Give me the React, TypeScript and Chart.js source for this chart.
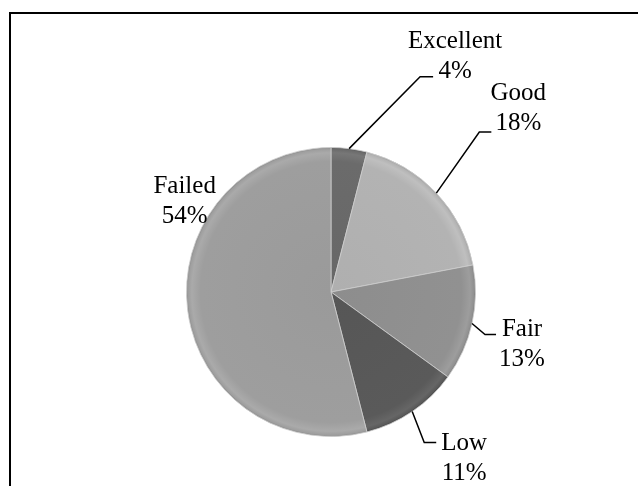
import React, { useEffect, useRef } from "react";
import { Chart, registerables } from "chart.js";

Chart.register(...registerables);

const categories = ["Excellent", "Good", "Fair", "Low", "Failed"];
const shares = [4, 18, 13, 11, 54];
const sliceColors = ["#6b6b6b", "#b3b3b3", "#919191", "#5a5a5a", "#9e9e9e"];

// label layout: text centre offset (from the slice's outer mid-point), leader elbow and end offsets
const labelOffsets = [
  { tx: 106, ty: -101, leader: [[71, -72], [84, -72]] },
  { tx: 82, ty: -93, leader: [[43, -61], [55, -61]] },
  { tx: 50, ty: 12, leader: [[13, 11], [24, 11]] },
  { tx: 52, ty: 38, leader: [[12, 31], [24, 31]] },
  { tx: -3, ty: -117, leader: null },
];

function shade(hex: string, d: number) {
  const n = parseInt(hex.slice(1), 16);
  const c = (v: number) => Math.max(0, Math.min(255, v + d));
  const r = c((n >> 16) & 255), g = c((n >> 8) & 255), b = c(n & 255);
  return `rgb(${r},${g},${b})`;
}

const labelPlugin = {
  id: "sliceLabels",
  afterDatasetsDraw(chart: any) {
    const meta = chart.getDatasetMeta(0);
    const ctx = chart.ctx;
    ctx.save();
    meta.data.forEach((arc: any, i: number) => {
      const { x, y, startAngle, endAngle, outerRadius } = arc.getProps(
        ["x", "y", "startAngle", "endAngle", "outerRadius"],
        true
      );
      const mid = (startAngle + endAngle) / 2;
      const ex = x + Math.cos(mid) * outerRadius;
      const ey = y + Math.sin(mid) * outerRadius;
      const lo = labelOffsets[i];
      if (lo.leader) {
        ctx.beginPath();
        ctx.moveTo(ex, ey);
        lo.leader.forEach((p) => ctx.lineTo(ex + p[0], ey + p[1]));
        ctx.strokeStyle = "#000";
        ctx.lineWidth = 1.5;
        ctx.stroke();
      }
      ctx.fillStyle = "#000";
      ctx.font = '25px "Liberation Serif", "Times New Roman", serif';
      ctx.textAlign = "center";
      ctx.textBaseline = "alphabetic";
      ctx.fillText(categories[i], ex + lo.tx, ey + lo.ty);
      ctx.fillText(shares[i] + "%", ex + lo.tx, ey + lo.ty + 30);
    });
    ctx.restore();
  },
};

export default function App() {
  const ref = useRef<HTMLCanvasElement>(null);
  useEffect(() => {
    if (!ref.current) return;
    const chart = new Chart(ref.current, {
      type: "pie",
      data: {
        labels: categories,
        datasets: [
          {
            data: shares,
            backgroundColor: (c: any) => {
              const base = sliceColors[c.dataIndex] || "#999";
              const area = c.chart.chartArea;
              if (!area) return base;
              const cx = (area.left + area.right) / 2;
              const cy = (area.top + area.bottom) / 2;
              const r = Math.min(area.right - area.left, area.bottom - area.top) / 2;
              const g = c.chart.ctx.createRadialGradient(cx, cy, 0, cx, cy, r);
              g.addColorStop(0, shade(base, -4));
              g.addColorStop(0.9, base);
              g.addColorStop(0.96, shade(base, 12));
              g.addColorStop(0.985, base);
              g.addColorStop(1, shade(base, -28));
              return g;
            },
            borderColor: "rgba(205,205,205,0.8)",
            borderWidth: 1,
          },
        ],
      },
      options: {
        responsive: false,
        animation: false,
        events: [],
        layout: { padding: { top: 147, bottom: 49, left: 186, right: 162 } },
        plugins: {
          legend: { display: false },
          tooltip: { enabled: false },
        },
      },
      plugins: [labelPlugin],
    });
    return () => chart.destroy();
  }, []);

  return (
    <div style={{ position: "fixed", left: 0, top: 0, width: 638, height: 486, background: "#fff", overflow: "hidden" }}>
      <div
        style={{
          position: "absolute",
          left: 9,
          top: 12,
          width: 700,
          height: 600,
          border: "2px solid #000",
          boxSizing: "border-box",
        }}
      />
      <canvas ref={ref} width={638} height={486} style={{ position: "absolute", left: 0, top: 0 }} />
    </div>
  );
}
